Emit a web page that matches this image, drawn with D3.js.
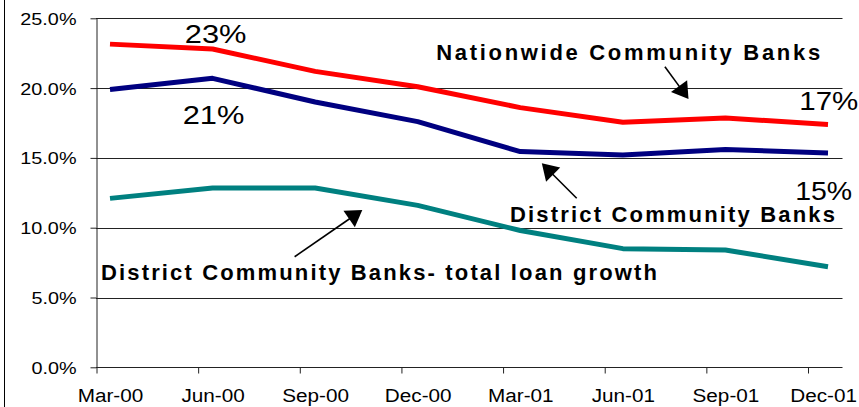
<!DOCTYPE html>
<html>
<head>
<meta charset="utf-8">
<script src="https://cdn.jsdelivr.net/npm/d3@7"></script>
<style>
  body { margin: 0; background: #fff; }
  svg { display: block; }
  text { font-family: "Liberation Sans", Arial, Helvetica, sans-serif; fill: #000; }
</style>
</head>
<body>
<svg id="chart" width="859" height="407"></svg>
<script>
// Quarterly growth rates, percent
const categories = ["Mar-00", "Jun-00", "Sep-00", "Dec-00", "Mar-01", "Jun-01", "Sep-01", "Dec-01"];
const nationwide = [23.15, 22.8, 21.2, 20.1, 18.6, 17.55, 17.85, 17.4];
const district   = [19.9, 20.7, 19.0, 17.6, 15.45, 15.2, 15.6, 15.35];
const loanGrowth = [12.1, 12.85, 12.85, 11.6, 9.8, 8.5, 8.4, 7.2];
const yTicks = [0, 5, 10, 15, 20, 25];

const svg = d3.select("#chart");
const W = 859, H = 407;
const plot = { left: 96, right: 842.5, top: 18.3, bottom: 367.3 };

const y = d3.scaleLinear().domain([0, 25]).range([plot.bottom, plot.top]);
const x = d3.scalePoint().domain(categories).range([110, 828]);
// fractional category index -> pixel, used to anchor annotations
const xi = d3.scaleLinear().domain([0, categories.length - 1]).range([110, 828]);
// tick marks sit slightly left of the data points
const xTick = d3.scalePoint().domain(categories).range([96, 807.5]);

// outer frame edge on the left
svg.append("line")
  .attr("x1", 4.5).attr("x2", 4.5).attr("y1", 0).attr("y2", H)
  .attr("stroke", "#000").attr("stroke-width", 1);

// horizontal gridlines
svg.append("g").selectAll("line")
  .data(yTicks.filter(d => d > 0))
  .join("line")
  .attr("x1", plot.left).attr("x2", plot.right)
  .attr("y1", d => Math.round(y(d)) + 0.5).attr("y2", d => Math.round(y(d)) + 0.5)
  .attr("stroke", "#222").attr("stroke-width", 1);

// y axis
const yAxis = svg.append("g")
  .attr("transform", `translate(${plot.left + 0.5},0)`)
  .call(d3.axisLeft(y).tickValues(yTicks).tickSize(6).tickSizeOuter(0).tickPadding(14)
    .tickFormat(d => d3.format(".1f")(d) + "%"));
yAxis.select(".domain").attr("stroke", "#222");
yAxis.selectAll(".tick line").attr("stroke", "#222");
yAxis.selectAll(".tick text")
  .attr("font-size", 16.5).attr("dy", "0.36em")
  .attr("font-family", null)
  .classed("stretch", true).attr("data-k", 1.2);

// x axis baseline
svg.append("line")
  .attr("x1", plot.left).attr("x2", plot.right)
  .attr("y1", Math.round(plot.bottom) + 0.5).attr("y2", Math.round(plot.bottom) + 0.5)
  .attr("stroke", "#222");

const xAxis = svg.append("g")
  .attr("transform", `translate(0,${Math.round(plot.bottom) + 0.5})`)
  .call(d3.axisBottom(x).tickSize(6).tickSizeOuter(0).tickPadding(16));
xAxis.select(".domain").remove();
xAxis.selectAll(".tick line")
  .attr("x1", d => xTick(d) - x(d) + 0.5).attr("x2", d => xTick(d) - x(d) + 0.5)
  .attr("stroke", "#222");
xAxis.selectAll(".tick text")
  .attr("font-size", 18).attr("font-family", null)
  .attr("dy", "0.71em")
  .classed("stretch", true).attr("data-k", 1.15);

// series lines
const line = d3.line()
  .x((d, i) => x(categories[i]))
  .y(d => y(d));

const series = [
  { values: loanGrowth, color: "#008080" },
  { values: district,   color: "#000080" },
  { values: nationwide, color: "#ff0000" }
];
svg.append("g").selectAll("path")
  .data(series)
  .join("path")
  .attr("d", d => line(d.values))
  .attr("fill", "none")
  .attr("stroke", d => d.color)
  .attr("stroke-width", 5)
  .attr("stroke-linejoin", "round");

// annotation arrows (tail -> tip, in category index / percent units)
const arrows = [
  { from: [5.41, 21.53], to: [5.64, 19.22] },
  { from: [4.55, 12.11], to: [4.21, 14.61] },
  { from: [1.80, 7.92],  to: [2.46, 11.27] }
];
const headLen = 16, headHalf = 10;
const ag = svg.append("g");
arrows.forEach(a => {
  const x0 = xi(a.from[0]), y0 = y(a.from[1]);
  const x1 = xi(a.to[0]),   y1 = y(a.to[1]);
  const dx = x1 - x0, dy = y1 - y0, len = Math.hypot(dx, dy);
  const ux = dx / len, uy = dy / len;
  const bx = x1 - ux * headLen, by = y1 - uy * headLen;
  ag.append("line")
    .attr("x1", x0).attr("y1", y0).attr("x2", bx + ux).attr("y2", by + uy)
    .attr("stroke", "#000").attr("stroke-width", 1.6);
  ag.append("path")
    .attr("d", `M${x1},${y1}L${bx - uy * headHalf},${by + ux * headHalf}L${bx + uy * headHalf},${by - ux * headHalf}Z`)
    .attr("fill", "#000");
});

// value callouts and series names
const pct = v => Math.round(v) + "%";
const labels = [
  { text: pct(nationwide[1]), at: [1.03, 23.21], anchor: "middle", size: 25, width: 61.7 },
  { text: pct(district[1]),   at: [1.01, 17.43], anchor: "middle", size: 25, width: 61.7 },
  { text: pct(nationwide[7]), at: [6.72, 18.43], anchor: "start",  size: 25, width: 59 },
  { text: pct(district[7]),   at: [6.68, 11.98], anchor: "start",  size: 25, width: 57 },
  { text: "Nationwide Community Banks", at: [3.18, 22.01], anchor: "start", size: 22, bold: true, width: 384 },
  { text: "District Community Banks",   at: [3.90, 10.41], anchor: "start", size: 22, bold: true, width: 325 },
  { text: "District Community Banks- total loan growth", at: [-0.088, 6.25], anchor: "start", size: 22, bold: true, width: 556 }
];
svg.append("g").selectAll("text")
  .data(labels)
  .join("text")
  .attr("x", d => xi(d.at[0]))
  .attr("y", d => y(d.at[1]))
  .attr("text-anchor", d => d.anchor)
  .attr("font-size", d => d.size)
  .attr("font-weight", d => d.bold ? "bold" : "normal")
  .attr("textLength", d => d.width)
  .attr("lengthAdjust", d => d.bold ? "spacing" : "spacingAndGlyphs")
  .text(d => d.text);

// widen axis text slightly, keeping it inside the canvas
svg.selectAll("text.stretch").each(function () {
  const t = d3.select(this);
  const w = this.getComputedTextLength() * (+t.attr("data-k"));
  t.attr("textLength", w).attr("lengthAdjust", "spacingAndGlyphs");
  const tick = this.parentNode;
  const m = /translate\(([-\d.]+)/.exec(tick.getAttribute("transform") || "");
  if (m && t.attr("text-anchor") !== "end") {
    const cx = +m[1];
    const over = cx + w / 2 - (W - 2);
    if (over > 0) t.attr("x", -over);
  }
});
</script>
</body>
</html>
